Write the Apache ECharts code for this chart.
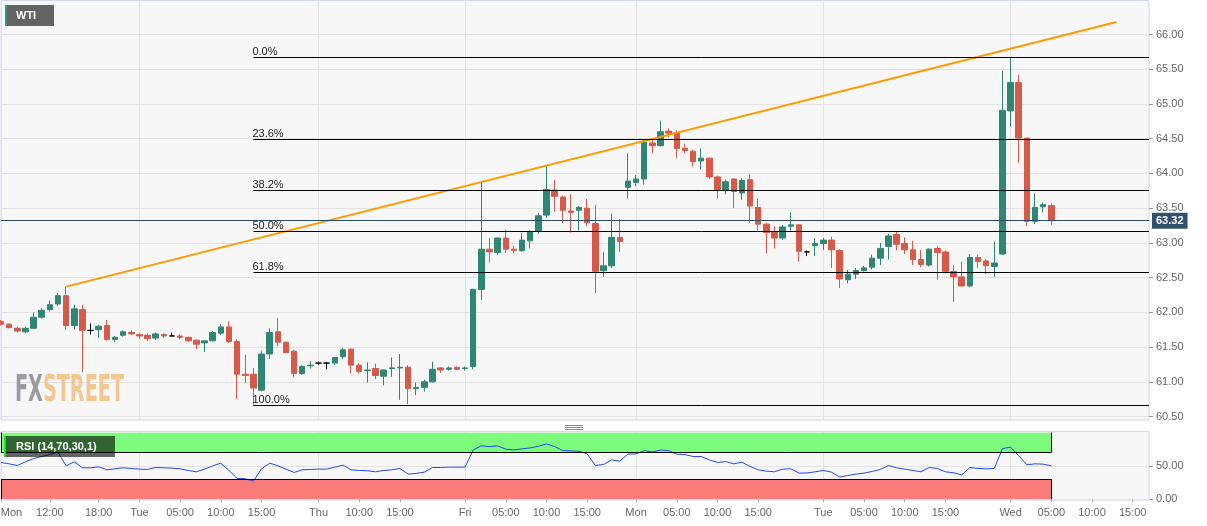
<!DOCTYPE html>
<html><head><meta charset="utf-8">
<script src="https://cdn.jsdelivr.net/npm/echarts@6/dist/echarts.min.js"></script>
<style>html,body{margin:0;padding:0;background:#fff}#c{width:1207px;height:526px}</style>
</head><body><div id="c"></div>
<script>
// ---- data (hourly WTI candles, index = hourly slot on the chart) ----
const opens = [61.87,61.83,61.77,61.72,61.77,61.93,62.04,62.12,62.24,61.81,
62.04,61.74,61.75,61.81,61.61,61.67,61.71,61.68,61.67,61.63,
61.68,61.66,61.66,61.64,61.60,61.56,61.59,61.70,61.79,61.58,
61.11,61.11,60.88,61.40,61.72,61.57,61.44,61.12,61.23,61.27,
61.27,61.27,61.36,61.47,61.24,61.16,61.19,61.08,61.19,61.20,
61.21,60.90,60.92,61.00,61.20,61.18,61.21,61.19,61.22,62.33,
62.91,62.86,63.07,62.91,62.89,63.03,63.17,63.40,63.76,63.66,
63.46,63.47,63.50,63.28,62.60,62.67,63.08,63.80,63.87,63.92,
64.44,64.40,64.61,64.59,64.36,64.32,64.18,64.22,63.95,63.76,
63.92,63.72,63.91,63.51,63.27,63.16,63.07,63.24,63.26,62.87,
62.96,62.99,63.04,62.89,62.47,62.55,62.60,62.65,62.78,62.95,
63.12,62.99,62.90,62.76,62.68,62.92,62.87,62.59,62.51,62.38,
62.79,62.74,62.66,62.84,64.90,65.31,64.51,63.31,63.52,63.54];
const closes = [61.83,61.78,61.73,61.77,61.93,62.03,62.11,62.24,61.81,62.05,
61.74,61.74,61.80,61.61,61.64,61.72,61.69,61.66,61.62,61.69,
61.66,61.66,61.64,61.59,61.54,61.59,61.71,61.79,61.58,61.11,
61.09,60.91,61.40,61.71,61.57,61.42,61.12,61.22,61.24,61.27,
61.27,61.35,61.46,61.24,61.15,61.17,61.09,61.17,61.20,61.21,
60.90,60.92,61.00,61.18,61.17,61.20,61.18,61.20,62.33,62.91,
62.87,63.07,62.91,62.89,63.04,63.16,63.39,63.77,63.67,63.47,
63.44,63.51,63.29,62.59,62.67,63.08,63.02,63.89,63.92,64.45,
64.40,64.60,64.58,64.36,64.33,64.17,64.22,63.95,63.77,63.88,
63.74,63.90,63.53,63.27,63.15,63.07,63.23,63.26,62.88,62.87,
62.99,63.04,62.90,62.48,62.55,62.60,62.64,62.78,62.92,63.10,
62.98,62.90,62.76,62.69,62.91,62.86,62.59,62.51,62.38,62.79,
62.73,62.67,62.71,64.91,65.31,64.51,63.31,63.51,63.55,63.32];
const lows = [61.81,61.77,61.71,61.70,61.76,61.91,62.01,62.09,61.75,61.75,
61.14,61.68,61.63,61.59,61.57,61.65,61.67,61.62,61.59,61.60,
61.63,61.66,61.61,61.58,61.47,61.43,61.58,61.67,61.56,60.75,
60.98,60.66,60.86,61.33,61.51,61.41,61.07,61.10,61.19,61.24,
61.18,61.24,61.33,61.12,61.12,60.99,61.04,60.95,61.07,60.74,
60.68,60.81,60.86,60.99,61.13,61.16,61.17,61.16,61.18,62.18,
62.72,62.83,62.85,62.85,62.87,62.92,63.13,63.36,63.45,63.28,
63.15,63.18,63.24,62.28,62.51,62.64,62.87,63.64,63.82,63.84,
64.29,64.39,64.52,64.22,64.29,64.10,64.06,63.92,63.64,63.70,
63.50,63.62,63.29,63.18,62.85,62.92,63.04,63.18,62.73,62.81,
62.81,62.90,62.64,62.35,62.42,62.48,62.59,62.62,62.68,62.76,
62.89,62.84,62.68,62.65,62.66,62.47,62.56,62.15,62.37,62.36,
62.64,62.55,62.51,62.83,64.67,64.15,63.24,63.27,63.44,63.26];
const highs = [61.89,61.84,61.79,61.79,62.00,62.06,62.17,62.28,62.37,62.11,
62.11,61.84,61.82,61.89,61.66,61.74,61.74,61.70,61.69,61.71,
61.70,61.71,61.68,61.65,61.61,61.59,61.73,61.83,61.87,61.61,
61.39,61.20,61.44,61.77,61.92,61.58,61.46,61.24,61.30,61.29,
61.28,61.36,61.49,61.48,61.27,61.28,61.26,61.18,61.35,61.40,
61.24,60.99,61.03,61.29,61.21,61.22,61.22,61.22,62.34,63.87,
63.07,63.08,63.19,62.96,63.14,63.18,63.43,64.11,63.91,63.68,
63.70,63.53,63.63,63.55,62.87,63.42,63.34,64.29,63.98,64.49,
64.49,64.76,64.65,64.62,64.43,64.34,64.36,64.23,63.97,63.91,
63.93,63.93,63.99,63.64,63.29,63.24,63.26,63.44,63.27,62.89,
63.07,63.07,63.09,62.91,62.61,62.64,62.67,62.83,63.00,63.13,
63.16,63.08,63.03,62.90,62.92,62.95,62.89,62.68,62.73,62.84,
62.83,62.77,63.02,65.48,65.67,65.42,64.51,63.71,63.58,63.57];
const rsi = [55,53,50.5,56,61,64,67,70.5,50,56,
47,47,48.5,44,45.5,47,46,45,44.5,47.5,
47,46.5,45.5,43,41,45,50,54,43,31,
30.5,27,45.5,54,50,45,40,44,44.5,45,
45,48,51,44,43,42.5,41,43,44,46,
37.5,38.5,40.5,47.5,47.5,48,48,48,74,80,
79,80,75,74,75.5,77,79.5,83,79,73,
72.5,72,68,50.5,52,59,57,67.7,68,72.7,
71,73.7,73,67.5,67,64,64,59,55,56.5,
53,55.5,49,44,42,41,45,45.5,39,39.2,
41,43,40.5,33,35.5,37.5,39,41.5,44.5,50.5,
47,45,43,41,47.5,46,41,39.5,36.4,47.5,
46,45.5,46,75.8,78.3,65,51.5,53,52.5,50];
const nSlots = 142;                       // hourly slots visible on the axis
const tickIdx  = [0,6,12,17,22,27,32,39,44,49,57,62,67,72,78,83,88,93,101,106,111,116,124,129,134,139];
const tickText = ['Mon','12:00','18:00','Tue','05:00','10:00','15:00','Thu','10:00','15:00','Fri','05:00','10:00','15:00','Mon','05:00','10:00','15:00','Tue','05:00','10:00','15:00','Wed','05:00','10:00','15:00'];
const dayIdx = [0,17,39,57,78,101,124];
const priceTicks = [60.5,61,61.5,62,62.5,63,63.5,64,64.5,65,65.5,66];
const rsiTicks = [0,50];
const fibRatios = [0,0.236,0.382,0.5,0.618,1];
const fibLabels = ['0.0%','23.6%','38.2%','50.0%','61.8%','100.0%'];
const fibHigh = 65.67, fibLow = 60.66, fibStartIdx = 31;
const lastPrice = 63.32;
const trendIdx = [8,137];
const trendVal = [62.37,66.18];
const rsiBands = [[70,100],[0,30]];

// ---- build ----
const cats = Array.from({length:nSlots},(_,i)=>String(i));
const candles = opens.map((o,i)=>[o,closes[i],lows[i],highs[i]]);
const lastIdx = String(opens.length-1);
const fibLevels = fibRatios.map(r=>+(fibHigh - r*(fibHigh-fibLow)).toFixed(3));
const UP='#2f8773', DOWN='#d65a4a';
const FONT='"Liberation Sans", Arial, sans-serif';

// watermark measurement
const mc=document.createElement('canvas').getContext('2d');
const wmFont='bold 37px "DejaVu Sans Condensed","DejaVu Sans",sans-serif';
mc.font=wmFont;
const wFX=mc.measureText('FX').width, wST=mc.measureText('STREET').width;
const wmScale=109/(wFX+wST);

const chart = echarts.init(document.getElementById('c'),null,{renderer:'canvas'});
const xBase = {type:'category', data:cats, boundaryGap:false,
  axisLine:{show:false}, axisTick:{show:false}, axisLabel:{show:false},
  splitLine:{show:true, interval:(i)=>dayIdx.indexOf(i)>=0, lineStyle:{color:'#e2e2e2',width:1}}};
chart.setOption({
  animation:false,
  backgroundColor:'#ffffff',
  grid:[
    {left:1,right:58,top:0.5,height:419.5,show:true,backgroundColor:'#f7f7f7',borderColor:'#d3d8ea',borderWidth:1,containLabel:false,outerBoundsMode:'none'},
    {left:1,right:58,top:431.5,height:68.5,show:true,backgroundColor:'#f7f7f7',borderColor:'#d3d8ea',borderWidth:1,containLabel:false,outerBoundsMode:'none'}
  ],
  xAxis:[
    Object.assign({},xBase,{gridIndex:0}),
    Object.assign({},xBase,{gridIndex:1,
      axisTick:{show:true,interval:(i)=>tickIdx.indexOf(i)>=0,length:3,lineStyle:{color:'#aaa'}},
      axisLabel:{show:true,interval:(i)=>tickIdx.indexOf(i)>=0,color:'#666',fontSize:11,fontFamily:FONT,margin:7,
        formatter:(v,i)=>{const k=tickIdx.indexOf(Number(v)); if(k<0) return ''; return k===0?'{f|'+tickText[k]+'}':tickText[k];},
        rich:{f:{padding:[0,0,0,21],color:'#666',fontSize:11,fontFamily:FONT}}}})
  ],
  yAxis:[
    {type:'value',gridIndex:0,position:'right',min:60.45,max:66.49,splitNumber:12,scale:true,
      axisLine:{show:false},
      axisTick:{show:true,customValues:priceTicks,length:4,lineStyle:{color:'#999'}},
      axisLabel:{customValues:priceTicks,color:'#666',fontSize:11,fontFamily:FONT,margin:7,
        formatter:(v)=>priceTicks.some(t=>Math.abs(t-v)<1e-6)?v.toFixed(2):''},
      splitLine:{show:true,lineStyle:{color:'#e2e2e2'}}},
    {type:'value',gridIndex:1,position:'right',min:-1.5,max:101.7,splitNumber:2,
      axisLine:{show:false},
      axisTick:{show:true,customValues:rsiTicks,length:4,lineStyle:{color:'#999'}},
      axisLabel:{customValues:rsiTicks,color:'#666',fontSize:11,fontFamily:FONT,margin:7,
        formatter:(v)=>rsiTicks.some(t=>Math.abs(t-v)<1e-6)?v.toFixed(2):''},
      splitLine:{show:true,lineStyle:{color:'#e4e4e4'}}}
  ],
  series:[
    {type:'candlestick',xAxisIndex:0,yAxisIndex:0,data:candles,barWidth:6,z:3,
      itemStyle:{color:UP,color0:DOWN,borderColor:UP,borderColor0:DOWN,borderColorDoji:'#000',borderWidth:1},
      markLine:{silent:true,symbol:['none','none'],animation:false,
        data:[
          ...fibLevels.map((lv,k)=>[
            {name:fibLabels[k],coord:[String(fibStartIdx),lv],
              lineStyle:{color:'#000',width:1,type:'solid'},
              label:{show:true,position:'insideStartTop',formatter:'{b}',color:'#222',fontSize:11,fontFamily:FONT,distance:[-1,0]}},
            {coord:[String(nSlots-1),lv]}]),
          {name:'last',yAxis:lastPrice,lineStyle:{color:'#2b4a6e',width:1,type:'solid'},
            label:{show:true,position:'end',formatter:lastPrice.toFixed(2),color:'#fff',fontWeight:'bold',fontSize:11,fontFamily:FONT,
              backgroundColor:'#34506e',padding:[3,4,2,4],distance:3}}
        ]}},
    {type:'line',xAxisIndex:0,yAxisIndex:0,z:4,symbol:'none',silent:true,
      data:trendIdx.map((ix,k)=>[String(ix),trendVal[k]]),
      lineStyle:{color:'#ff9a00',width:2}},
    {type:'line',xAxisIndex:1,yAxisIndex:1,z:4,symbol:'none',silent:true,data:rsi,
      lineStyle:{color:'#2448f2',width:1},
      markArea:{silent:true,data:[
        [{xAxis:'0',yAxis:rsiBands[0][0],itemStyle:{color:'#7dfb7d'}},{xAxis:lastIdx,yAxis:rsiBands[0][1]}],
        [{xAxis:'0',yAxis:rsiBands[1][0],itemStyle:{color:'#fb7b7b'}},{xAxis:lastIdx,yAxis:rsiBands[1][1]}]
      ]},
      markLine:{silent:true,symbol:['none','none'],label:{show:false},lineStyle:{color:'#000',width:1,type:'solid'},
        data:[
          [{coord:['0',rsiBands[0][0]]},{coord:[lastIdx,rsiBands[0][0]]}],
          [{coord:['0',rsiBands[1][1]]},{coord:[lastIdx,rsiBands[1][1]]}],
          [{coord:[lastIdx,rsiBands[0][0]]},{coord:[lastIdx,rsiBands[0][1]]}],
          [{coord:[lastIdx,rsiBands[1][0]]},{coord:[lastIdx,rsiBands[1][1]]}],
          [{coord:['0',rsiBands[1][0]]},{coord:['0',rsiBands[1][1]]}],
          [{coord:['0',rsiBands[0][0]]},{coord:['0',rsiBands[0][1]]}]
        ]}}
  ],
  graphic:[
    {type:'text',x:15,y:373,z:1,silent:true,scaleX:wmScale,style:{text:'FX',font:wmFont,fill:'#9a9ba0',verticalAlign:'top'}},
    {type:'text',x:15+wFX*wmScale,y:373,z:1,silent:true,scaleX:wmScale,style:{text:'STREET',font:wmFont,fill:'#f4c690',verticalAlign:'top'}},
    {type:'rect',shape:{x:5,y:5,width:49,height:21},style:{fill:'rgba(0,0,0,0.6)'},z:20,silent:true},
    {type:'rect',shape:{x:5,y:5,width:2,height:21},style:{fill:'#2e9c7e'},z:21,silent:true},
    {type:'text',x:16,y:16,z:21,silent:true,style:{text:'WTI',fill:'#fff',font:'bold 11px '+FONT,verticalAlign:'middle'}},
    {type:'rect',shape:{x:4,y:436,width:111,height:21},style:{fill:'rgba(0,0,0,0.6)'},z:20,silent:true},
    {type:'rect',shape:{x:4,y:436,width:2,height:21},style:{fill:'#22dd22'},z:21,silent:true},
    {type:'text',x:16,y:447,z:21,silent:true,style:{text:'RSI (14,70,30,1)',fill:'#fff',font:'bold 11px '+FONT,verticalAlign:'middle'}},
    {type:'line',shape:{x1:565,y1:425.5,x2:583,y2:425.5},style:{stroke:'#888',lineWidth:1},silent:true},
    {type:'line',shape:{x1:565,y1:427.5,x2:583,y2:427.5},style:{stroke:'#888',lineWidth:1},silent:true},
    {type:'line',shape:{x1:565,y1:429.5,x2:583,y2:429.5},style:{stroke:'#888',lineWidth:1},silent:true}
  ]
});
</script></body></html>
